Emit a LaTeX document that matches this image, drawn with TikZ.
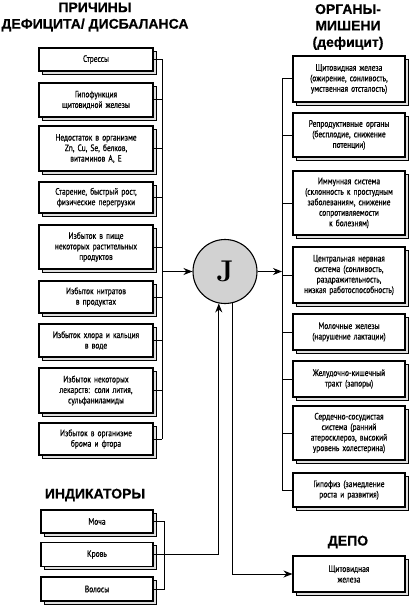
\documentclass[tikz,border=0pt]{standalone}
\usepackage{fontspec}
\newfontfamily\boxfont{PT Sans}[FakeStretch=0.8, FakeBold=0.6]
\newfontfamily\headfont{Liberation Sans}[FakeBold=0.5]
\usetikzlibrary{arrows.meta,shadows,calc}
\begin{document}
\begin{tikzpicture}[x=1pt,y=-1pt,
  box/.style={draw=black, line width=1.1pt, fill=white, text width=108pt, align=center, inner sep=1pt,
    font=\boxfont\fontsize{9.3}{10.5}\selectfont,
    copy shadow={shadow xshift=3pt, shadow yshift=-3pt, fill=gray!25, draw=black, line width=0.9pt}},
  lbox/.style={box, minimum width=114pt},
  rbox/.style={box, minimum width=112pt},
  conn/.style={line width=1pt},
  arr/.style={conn, -{Stealth[length=9pt,width=7pt]}},
  head/.style={font=\headfont\bfseries\fontsize{14}{16.5}\selectfont, align=center, inner sep=0pt}]
\useasboundingbox (0,0) rectangle (411,607);

% titles
\node[head] (t1) at (95,17) {ПРИЧИНЫ\\ДЕФИЦИТА/ ДИСБАЛАНСА};
\node[head] (t2) at (348,27) {ОРГАНЫ-\\МИШЕНИ\\(дефицит)};
\node[head] (t3) at (95,495) {ИНДИКАТОРЫ};
\node[head] (t4) at (348,542) {ДЕПО};

% left boxes
\node[lbox, minimum height=23pt] (L1) at (96,59.5) {Стрессы};
\node[lbox, minimum height=34pt] (L2) at (96,100) {Гипофункция\\щитовидной железы};
\node[lbox, minimum height=45pt] (L3) at (96,148.5) {Недостаток в организме\\Zn, Cu, Se, белков,\\витаминов А, Е};
\node[lbox, minimum height=31pt] (L4) at (96,197.5) {Старение, быстрый рост,\\физические перегрузки};
\node[lbox, minimum height=44pt] (L5) at (96,247) {Избыток в пище\\некоторых растительных\\продуктов};
\node[lbox, minimum height=32pt] (L6) at (96,297) {Избыток нитратов\\в продуктах};
\node[lbox, minimum height=33pt] (L7) at (96,340.5) {Избыток хлора и кальция\\в воде};
\node[lbox, minimum height=45pt] (L8) at (96,390.5) {Избыток некоторых\\лекарств: соли лития,\\сульфаниламиды};
\node[lbox, minimum height=32pt] (L9) at (96,439) {Избыток в организме\\брома и фтора};

% indicators
\node[rbox, minimum height=23pt] (I1) at (97,521.5) {Моча};
\node[rbox, minimum height=24pt] (I2) at (97,554.5) {Кровь};
\node[rbox, minimum height=24pt] (I3) at (97,589) {Волосы};

% right boxes
\node[rbox, minimum height=46pt] (R1) at (349,79) {Щитовидная железа\\(ожирение, сонливость,\\умственная отсталость)};
\node[rbox, minimum height=44pt] (R2) at (349,135) {Репродуктивные органы\\(бесплодие, снижение\\потенции)};
\node[rbox, minimum height=64pt] (R3) at (349,203) {Иммунная система\\(склонность к простудным\\заболеваниям, снижение\\сопротивляемости\\к болезням)};
\node[rbox, minimum height=56pt] (R4) at (349,275) {Центральная нервная\\система (сонливость,\\раздражительность,\\низкая работоспособность)};
\node[rbox, minimum height=36pt] (R5) at (349,332) {Молочные железы\\(нарушение лактации)};
\node[rbox, minimum height=36pt] (R6) at (349,379) {Желудочно-кишечный\\тракт (запоры)};
\node[rbox, minimum height=54pt] (R7) at (349,433) {Сердечно-сосудистая\\система (ранний\\атеросклероз, высокий\\уровень холестерина)};
\node[rbox, minimum height=34pt] (R8) at (349,490) {Гипофиз (замедление\\роста и развития)};
\node[rbox, minimum height=36pt] (D) at (349,574) {Щитовидная\\железа};

% central circle
\node[circle, draw=black, line width=1.1pt, fill=gray!35, minimum size=64pt, inner sep=0pt,
  font=\fontsize{30}{30}\selectfont\bfseries] (J) at (225,271.5) {J};

% bus coordinates
\coordinate (lb) at (162,0);
\coordinate (rb) at (282,0);
\coordinate (ib) at (164,0);

% left bus
\foreach \n in {L1,L2,L3,L4,L5,L6,L7,L8,L9} \draw[conn] (\n.east) -- (\n.east -| lb);
\draw[conn] (L1.east -| lb) -- (L9.east -| lb);
\draw[arr] (J.west -| lb) -- (J.west);

% right bus
\foreach \n in {R2,R3,R4,R5,R6,R7} \draw[conn] (\n.west) -- (\n.west -| rb);
\draw[conn] (R1.west) -| (rb |- R8.west) -- (R8.west);
\draw[arr] (J.east) -- (J.east -| rb);

% indicators
\draw[conn] (I1.east) -| (ib |- I3.east) -- (I3.east);
\draw[arr] (I2.east) -| (J.-101);

% depot
\draw[arr] (J.-76) |- (D.west);
\end{tikzpicture}
\end{document}
